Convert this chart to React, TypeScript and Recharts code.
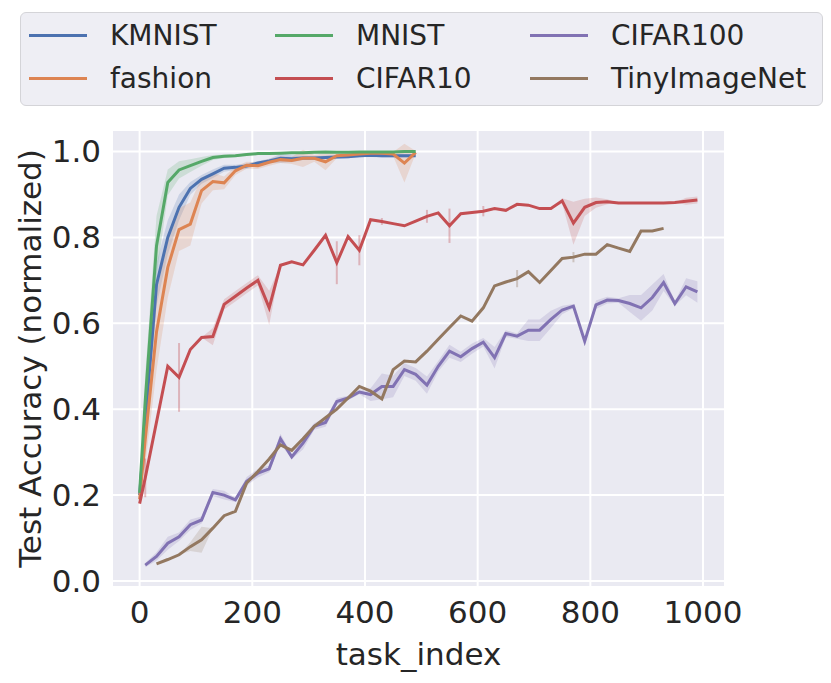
import React from "react";
import { ComposedChart, Line, Area, XAxis, YAxis, CartesianGrid, Legend, ErrorBar } from "recharts";

// task_index grid shared by all runs
const TASK_INDEX = [
  0, 10, 30, 50, 70, 90, 110, 130, 150, 170, 190, 210, 230, 250, 270, 290, 310, 330, 350, 370, 390,
  410, 430, 450, 470, 490, 510, 530, 550, 570, 590, 610, 630, 650, 670, 690, 710, 730, 750, 770, 790,
  810, 830, 850, 870, 890, 910, 930, 950, 970, 990,
];

const KMNIST = [
  0.2, 0.37, 0.69, 0.8, 0.87, 0.914, 0.935, 0.948, 0.961, 0.963, 0.966, 0.973, 0.978, 0.984, 0.983,
  0.985, 0.985, 0.986, 0.987, 0.988, 0.99, 0.991, 0.99, 0.99, 0.99, 0.99,
];
const KMNIST_BAND = [
  0, 0.05, 0.05, 0.04, 0.03, 0.015, 0.01, 0.01, 0.008, 0.006, 0.006, 0.005, 0.005, 0.01, 0.008,
  0.005, 0.004, 0.004, 0.004, 0.004, 0.004, 0.004, 0.004, 0.004, 0.004, 0.003,
];

const FASHION = [
  0.19, 0.33, 0.58, 0.73, 0.818, 0.831, 0.909, 0.93, 0.927, 0.955, 0.968, 0.967, 0.975, 0.981, 0.979,
  0.984, 0.984, 0.976, 0.99, 0.992, 0.994, 0.996, 0.996, 0.994, 0.973, 0.998,
];
const FASHION_BAND = [
  0, 0.06, 0.09, 0.07, 0.05, 0.05, 0.03, 0.02, 0.015, 0.01, 0.008, 0.008, 0.008, 0.008, 0.008, 0.02,
  0.008, 0.02, 0.006, 0.006, 0.005, 0.005, 0.005, 0.005, 0.045, 0.003,
];

const MNIST = [
  0.205, 0.42, 0.78, 0.928, 0.957, 0.967, 0.977, 0.986, 0.989, 0.99, 0.993, 0.995, 0.995, 0.996,
  0.997, 0.997, 0.998, 0.999, 0.998, 0.998, 0.999, 0.999, 0.999, 0.999, 1.0, 1.0,
];
const MNIST_BAND = [
  0, 0.06, 0.07, 0.03, 0.02, 0.015, 0.01, 0.006, 0.004, 0.003, 0.002, 0.002, 0.002, 0.002, 0.002,
  0.002, 0.002, 0.002, 0.002, 0.002, 0.002, 0.002, 0.002, 0.002, 0.002, 0.002,
];

const CIFAR10 = [
  0.18, 0.24, null, 0.5, 0.474, 0.539, 0.567, 0.569, 0.644, 0.663, 0.682, 0.7, 0.636, 0.735, 0.743,
  0.736, 0.77, 0.805, 0.741, 0.802, 0.77, 0.841, 0.837, 0.832, 0.827, 0.838, 0.849, 0.857, 0.827,
  0.855, 0.858, 0.861, 0.867, 0.863, 0.877, 0.875, 0.867, 0.867, 0.885, 0.833, 0.87, 0.881, 0.883,
  0.88, 0.88, 0.88, 0.88, 0.88, 0.881, 0.884, 0.887,
];
const CIFAR10_BAND = [
  0, 0, 0, 0, 0, 0, 0, 0.02, 0.012, 0.012, 0.012, 0.012, 0.04, 0, 0, 0, 0, 0, 0, 0, 0, 0, 0, 0, 0, 0,
  0, 0, 0, 0, 0, 0, 0, 0, 0, 0, 0, 0, 0.006, 0.05, 0.02, 0.012, 0.006, 0, 0, 0, 0, 0, 0, 0.008, 0.008,
];
const CIFAR10_ERR = [
  0, 0.045, 0, 0, 0.08, 0, 0, 0, 0, 0, 0, 0, 0, 0, 0, 0, 0, 0, 0.05, 0, 0.035, 0, 0.008, 0, 0, 0,
  0.015, 0, 0.04, 0, 0, 0.012,
];

const CIFAR100 = [
  null, 0.037, 0.057, 0.088, 0.103, 0.131, 0.142, 0.206, 0.2, 0.189, 0.232, 0.251, 0.261, 0.331,
  0.289, 0.321, 0.36, 0.369, 0.418, 0.426, 0.44, 0.434, 0.453, 0.453, 0.492, 0.481, 0.456, 0.5, 0.535,
  0.522, 0.541, 0.556, 0.52, 0.576, 0.57, 0.584, 0.584, 0.609, 0.631, 0.64, 0.558, 0.643, 0.654,
  0.653, 0.646, 0.636, 0.66, 0.695, 0.646, 0.685, 0.673,
];
const CIFAR100_BAND = [
  0, 0.005, 0.01, 0.015, 0.01, 0.012, 0.008, 0.008, 0.01, 0.005, 0.01, 0.01, 0.008, 0.012, 0.005,
  0.015, 0.008, 0.01, 0.008, 0.005, 0.005, 0.015, 0.03, 0.025, 0.015, 0.015, 0.02, 0.012, 0.015,
  0.012, 0.012, 0.01, 0.025, 0.008, 0.006, 0.025, 0.025, 0.02, 0.01, 0.005, 0.005, 0.01, 0.008,
  0.005, 0.02, 0.03, 0.03, 0.02, 0.005, 0.02, 0.025,
];

const TINY = [
  null, null, 0.04, 0.05, 0.061, 0.08, 0.096, 0.123, 0.152, 0.162, 0.228, 0.255, 0.284, 0.317, 0.304,
  0.331, 0.36, 0.38, 0.4, 0.426, 0.453, 0.442, 0.424, 0.492, 0.512, 0.51, 0.535, 0.563, 0.59, 0.617,
  0.605, 0.636, 0.687, 0.696, 0.704, 0.72, 0.695, 0.723, 0.751, 0.754, 0.761, 0.761, 0.783, 0.775,
  0.767, 0.815, 0.815, 0.821,
];
const TINY_BAND = [0, 0, 0, 0, 0, 0.01, 0.03];
const TINY_ERR = [
  0, 0, 0, 0, 0, 0, 0, 0, 0, 0, 0, 0, 0, 0, 0, 0, 0, 0, 0, 0, 0, 0, 0, 0, 0, 0, 0, 0, 0, 0, 0, 0, 0,
  0, 0.02, 0, 0, 0, 0, 0.012,
];

const X_TICKS = [0, 200, 400, 600, 800, 1000];
const Y_TICKS = [0, 0.2, 0.4, 0.6, 0.8, 1.0];

const SERIES = [
  { key: "KMNIST", color: "#4c72b0", values: KMNIST, band: KMNIST_BAND, err: [] as number[] },
  { key: "fashion", color: "#dd8452", values: FASHION, band: FASHION_BAND, err: [] as number[] },
  { key: "MNIST", color: "#55a868", values: MNIST, band: MNIST_BAND, err: [] as number[] },
  { key: "CIFAR10", color: "#c44e52", values: CIFAR10, band: CIFAR10_BAND, err: CIFAR10_ERR },
  { key: "CIFAR100", color: "#8172b3", values: CIFAR100, band: CIFAR100_BAND, err: [] as number[] },
  { key: "TinyImageNet", color: "#937860", values: TINY, band: TINY_BAND, err: TINY_ERR },
];

// legend is laid out column by column, like matplotlib's ncol=3
const LEGEND_COLUMNS = [
  ["KMNIST", "fashion"],
  ["MNIST", "CIFAR10"],
  ["CIFAR100", "TinyImageNet"],
];

const table = TASK_INDEX.map((t, i) => {
  const row: Record<string, any> = { task_index: t };
  SERIES.forEach((s) => {
    const v = s.values[i];
    if (v == null) return;
    const b = s.band[i] ?? 0;
    row[s.key] = v;
    row[s.key + "_band"] = [v - b, v + b];
    const e = s.err[i];
    if (e) row[s.key + "_err"] = e;
  });
  return row;
});

const colorOf = (k: string) => SERIES.find((s) => s.key === k)!.color;
const COL_W = [246, 255, 290];

function LegendBox() {
  return (
    <div
      style={{
        boxSizing: "border-box",
        height: 94,
        width: 803,
        border: "1.5px solid #d4d4d8",
        borderRadius: 6,
        background: "#eeeef4",
        display: "flex",
        paddingLeft: 8,
        paddingTop: 1,
        fontFamily: "DejaVu Sans",
        fontSize: 28,
        color: "#262626",
      }}
    >
      {LEGEND_COLUMNS.map((col, ci) => (
        <div key={ci} style={{ width: COL_W[ci] }}>
          {col.map((k) => (
            <div key={k} style={{ height: 43, display: "flex", alignItems: "center" }}>
              <span
                style={{
                  display: "inline-block",
                  width: 58,
                  height: 3,
                  background: colorOf(k),
                  marginRight: 23,
                }}
              />
              <span>{k}</span>
            </div>
          ))}
        </div>
      ))}
    </div>
  );
}

const tickStyle = { fontSize: 31, fill: "#262626", fontFamily: "DejaVu Sans" };

export default function App() {
  return (
    <div style={{ width: 823, height: 675, fontFamily: "DejaVu Sans" }}>
      <ComposedChart
        width={823}
        height={675}
        data={table}
        margin={{ top: 28, right: 106, bottom: 16, left: 10 }}
      >
        <CartesianGrid fill="#eaeaf2" stroke="#ffffff" strokeWidth={2} />
        <Legend
          verticalAlign="top"
          align="left"
          wrapperStyle={{ top: 4, left: 12, width: 803, height: 94 }}
          content={() => <LegendBox />}
        />
        <XAxis
          dataKey="task_index"
          type="number"
          domain={[-49, 1039]}
          allowDataOverflow
          ticks={X_TICKS}
          tickLine={false}
          axisLine={false}
          tick={tickStyle}
          tickMargin={8}
          height={80}
          label={{ value: "task_index", position: "insideBottom", offset: 2, style: { ...tickStyle, textAnchor: "middle" } }}
        />
        <YAxis
          type="number"
          domain={[-0.014, 1.05]}
          allowDataOverflow
          ticks={Y_TICKS}
          tickFormatter={(v: number) => v.toFixed(1)}
          tickLine={false}
          axisLine={false}
          tick={tickStyle}
          tickMargin={5}
          width={94}
          label={{
            value: "Test Accuracy (normalized)",
            angle: -90,
            position: "insideLeft",
            offset: 12,
            style: { ...tickStyle, textAnchor: "middle" },
          }}
        />
        {SERIES.map((s) => (
          <Area
            key={s.key + "_band"}
            dataKey={s.key + "_band"}
            stroke="none"
            fill={s.color}
            fillOpacity={0.2}
            isAnimationActive={false}
            legendType="none"
            activeDot={false}
          />
        ))}
        {SERIES.map((s) => (
          <Line
            key={s.key}
            dataKey={s.key}
            stroke={s.color}
            strokeWidth={3}
            dot={false}
            activeDot={false}
            connectNulls
            isAnimationActive={false}
          >
            {s.err.length > 0 && (
              <ErrorBar
                dataKey={s.key + "_err"}
                direction="y"
                width={0}
                stroke={s.color}
                strokeOpacity={0.35}
                strokeWidth={2}
                isAnimationActive={false}
              />
            )}
          </Line>
        ))}
      </ComposedChart>
    </div>
  );
}
